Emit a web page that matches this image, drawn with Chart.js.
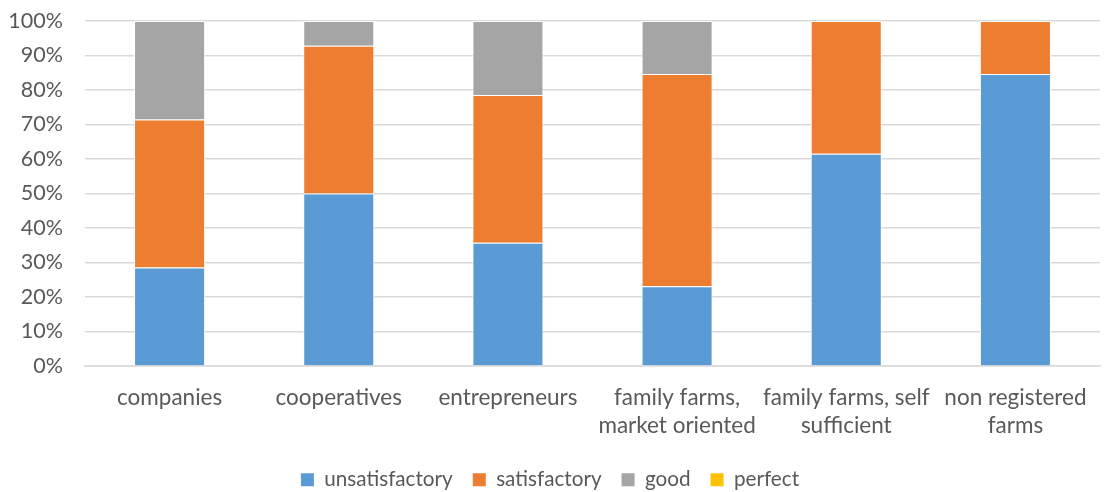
<!DOCTYPE html>
<html>
<head>
<meta charset="utf-8">
<script src="https://cdn.jsdelivr.net/npm/chart.js@4/dist/chart.umd.min.js"></script>
<style>
html,body{margin:0;padding:0;background:#fff;}
#wrap{width:1107px;height:492px;}
</style>
</head>
<body>
<div id="wrap"><canvas id="c" width="1107" height="492"></canvas></div>
<script>
const categories = [
  "companies",
  "cooperatives",
  "entrepreneurs",
  ["family farms,", "market oriented"],
  ["family farms, self", "sufficient"],
  ["non registered", "farms"]
];
const unsatisfactory = [28.57, 50.00, 35.71, 23.08, 61.54, 84.62];
const satisfactory   = [42.86, 42.86, 42.86, 61.54, 38.46, 15.38];
const good           = [28.57,  7.14, 21.43, 15.38,  0.00,  0.00];
const perfect        = [0, 0, 0, 0, 0, 0];
const yTickLabels = ["0%","10%","20%","30%","40%","50%","60%","70%","80%","90%","100%"];

const FONT = "Lato, 'Open Sans', sans-serif";
const TXT = "#595959";
const FS = 22.5;
const LFS = 20.7;

function ds(label, data, color){
  return {label, data, backgroundColor: color, borderColor: "#ffffff", borderWidth: {left:1,right:1,top:1,bottom:0},
          categoryPercentage: 0.8, barPercentage: 0.525};
}

new Chart(document.getElementById("c"), {
  type: "bar",
  data: {
    labels: categories,
    datasets: [
      ds("unsatisfactory", unsatisfactory, "#5b9bd5"),
      ds("satisfactory", satisfactory, "#ed7d31"),
      ds("good", good, "#a5a5a5"),
      ds("perfect", perfect, "#ffc000")
    ]
  },
  options: {
    responsive: false,
    animation: false,
    layout: {padding: {left: 0, right: 7, top: 21, bottom: 0}},
    plugins: {
      tooltip: {enabled: false},
      legend: {
        position: "bottom",
        maxHeight: 42.7,
        labels: {
          font: {family: FONT, size: LFS},
          color: TXT,
          boxWidth: 13, boxHeight: 13,
          padding: 20,
          generateLabels(chart){
            return chart.data.datasets.map((d,i)=>({
              text: d.label, fillStyle: d.backgroundColor, strokeStyle: d.backgroundColor,
              lineWidth: 0, hidden: false, datasetIndex: i, fontColor: TXT
            }));
          }
        }
      }
    },
    scales: {
      x: {
        stacked: true,
        afterFit(s){ s.height = 83.3; },
        grid: {display: false, drawTicks: false},
        border: {display: true, color: "#d9d9d9", width: 1.5},
        ticks: {font: {family: FONT, size: FS, lineHeight: 1.25}, color: TXT, padding: 18, maxRotation: 0, autoSkip: false}
      },
      y: {
        stacked: true,
        min: 0, max: 100,
        afterFit(s){ s.width = 85; s.paddingTop = 0; s.paddingBottom = 0; },
        grid: {color: "#d9d9d9", lineWidth: 1.5, drawTicks: false},
        border: {display: false},
        ticks: {
          stepSize: 10,
          font: {family: FONT, size: 21.5},
          color: TXT,
          padding: 22,
          callback: (v) => yTickLabels[Math.round(v/10)]
        }
      }
    }
  }
});
</script>
</body>
</html>
